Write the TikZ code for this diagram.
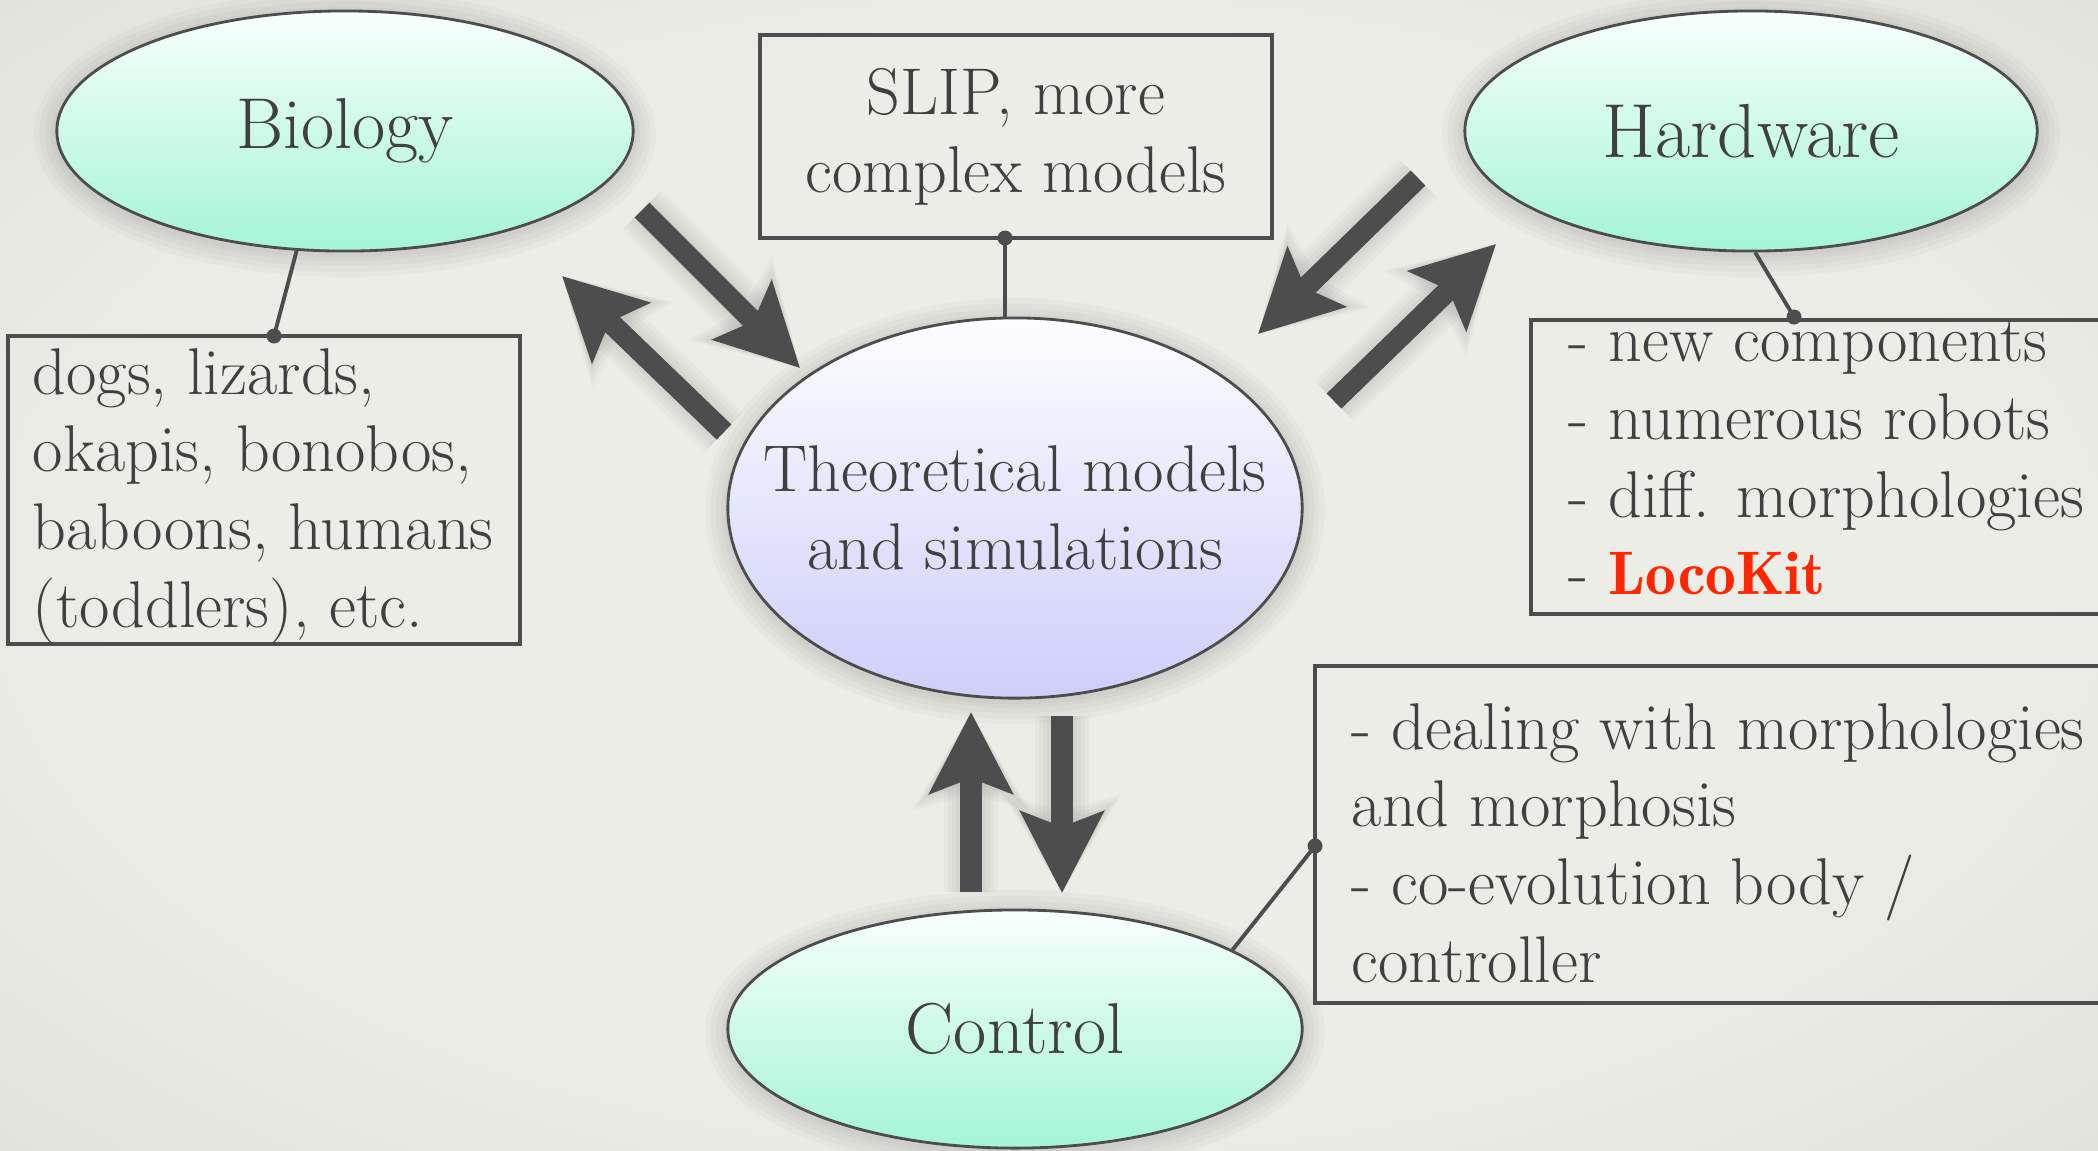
\documentclass[tikz,border=0pt]{standalone}
\usetikzlibrary{shapes.geometric,arrows.meta}
\definecolor{ink}{RGB}{64,64,64}
\definecolor{linec}{RGB}{77,77,77}
\definecolor{bgin}{RGB}{237,237,232}
\definecolor{bgout}{RGB}{216,216,209}
\definecolor{mint}{RGB}{164,245,213}
\definecolor{mintt}{RGB}{248,255,252}
\definecolor{lav}{RGB}{206,206,250}
\definecolor{lavt}{RGB}{253,253,255}
\definecolor{loco}{RGB}{255,38,0}
\pgfdeclareradialshading{vignette}{\pgfpoint{0bp}{0bp}}{color(0bp)=(bgin); color(22bp)=(bgin); color(50bp)=(bgout)}
\tikzset{
  every node/.style={text=ink},
  bubble/.style={ellipse, draw=linec, line width=0.8pt, inner sep=0pt,
    top color=mintt, bottom color=mint, font=\fontsize{20.5}{24}\selectfont},
  theory/.style={bubble, top color=lavt, bottom color=lav, inner xsep=-0.5cm,
    font=\fontsize{18.8}{22.1}\selectfont, align=center},
  notebox/.style={rectangle, draw=linec, line width=1.2pt, inner sep=0pt},
  notetext/.style={font=\fontsize{18.8}{22.1}\selectfont, align=left, inner sep=0pt},
  tie/.style={draw=linec, line width=1.1pt},
  tiedot/.style={circle, fill=linec, inner sep=0pt, minimum size=0.15cm},
  bigarrow/.style={draw=linec, line width=6pt,
    -{Stealth[length=0.81cm,width=0.82cm,inset=0.15cm]}},
  halo/.style={black, opacity=0.025, yshift=-0.03cm},
}
\newcommand{\ellhalo}[4]{%
  \foreach \w in {2,4,7,10,13}
    \draw[halo, line width=\w pt] (#1,#2) ellipse [x radius=#3, y radius=#4];}
\newcommand{\arrowhalo}[2]{%
  \foreach \e [evaluate=\e as \lw using 6+2.4*\e,
               evaluate=\e as \hl using 0.81+0.04*\e,
               evaluate=\e as \hw using 0.82+0.08*\e] in {1,2,3,4}
    \draw[halo, line width=\lw pt,
      -{Stealth[length=\hl cm,width=\hw cm,inset=0.15cm]}] (#1) -- (#2);}
\begin{document}
\begin{tikzpicture}[x=0.01cm, y=-0.01cm]
\useasboundingbox (0,0) rectangle (2098,1150);
\clip (0,0) rectangle (2098,1150);
\shade[shading=vignette] (0,0) rectangle (2098,1150);

% soft shadows of the ellipses
\ellhalo{345}{131}{288}{120}
\ellhalo{1751}{131}{286}{120}
\ellhalo{1015}{508}{287}{190}
\ellhalo{1015}{1029}{287}{119}

% main nodes
\node[bubble, minimum width=5.76cm, minimum height=2.40cm] (bio) at (345,131) {Biology};
\node[bubble, minimum width=5.72cm, minimum height=2.40cm, font=\fontsize{21.8}{24}\selectfont] (hw) at (1751,131) {Hardware};
\node[theory, minimum width=5.74cm, minimum height=3.80cm] (theo) at (1015,508) {Theoretical models\\and simulations};
\node[bubble, minimum width=5.74cm, minimum height=2.38cm] (ctrl) at (1015,1029) {Control};

% note boxes
\node[notebox, minimum width=5.12cm, minimum height=2.03cm, align=center,
  font=\fontsize{18.8}{22.1}\selectfont] (slip) at (1016,136.5) {SLIP, more\\complex models};
\node[notebox, minimum width=5.12cm, minimum height=3.08cm] (dogsbox) at (264,490) {};
\node[notetext, anchor=west] (dogs) at (32,496) {dogs, lizards,\\okapis, bonobos,\\baboons, humans\\(toddlers), etc.};
\node[notebox, minimum width=6.09cm, minimum height=2.94cm] (hwbox) at (1835.5,467) {};
\node[notetext, anchor=west] (hwtext) at (1568,458) {- new components\\- numerous robots\\- diff. morphologies\\- {\fontsize{17.5}{22.1}\fontseries{b}\selectfont\color{loco}LocoKit}};
\node[notebox, minimum width=8.25cm, minimum height=3.37cm] (ctrlbox) at (1727.5,834.5) {};
\node[notetext, anchor=west] (ctrltext) at (1351,843) {- dealing with morphologies\\and morphosis\\- co-evolution body /\\controller};

% ties with dots
\node[tiedot] (biodot) at (274,336) {};
\node[tiedot] (slipdot) at (1005,238) {};
\node[tiedot] (hwdot) at (1794,317) {};
\node[tiedot] (ctrldot) at (1315,846) {};
\draw[tie] (bio.248) -- (biodot.center);
\draw[tie] (slipdot.center) -- (slipdot.center |- theo.north);
\draw[tie] (hw.272) -- (hwdot.center);
\draw[tie] (ctrl.20) -- (ctrldot.center);

% big arrows
\coordinate (a1s) at (642,210);  \coordinate (a1e) at (800,368);
\coordinate (a2s) at (724,432);  \coordinate (a2e) at (562,276);
\coordinate (a3s) at (1418,178); \coordinate (a3e) at (1258,334);
\coordinate (a4s) at (1334,401); \coordinate (a4e) at (1496,244);
\coordinate (a5s) at (971,892);  \coordinate (a5e) at (971,712);
\coordinate (a6s) at (1062,716); \coordinate (a6e) at (1062,893);
\arrowhalo{a1s}{a1e}
\arrowhalo{a2s}{a2e}
\arrowhalo{a3s}{a3e}
\arrowhalo{a4s}{a4e}
\arrowhalo{a5s}{a5e}
\arrowhalo{a6s}{a6e}
\draw[bigarrow] (a1s) -- (a1e);
\draw[bigarrow] (a2s) -- (a2e);
\draw[bigarrow] (a3s) -- (a3e);
\draw[bigarrow] (a4s) -- (a4e);
\draw[bigarrow] (a5s) -- (a5e);
\draw[bigarrow] (a6s) -- (a6e);
\end{tikzpicture}
\end{document}
